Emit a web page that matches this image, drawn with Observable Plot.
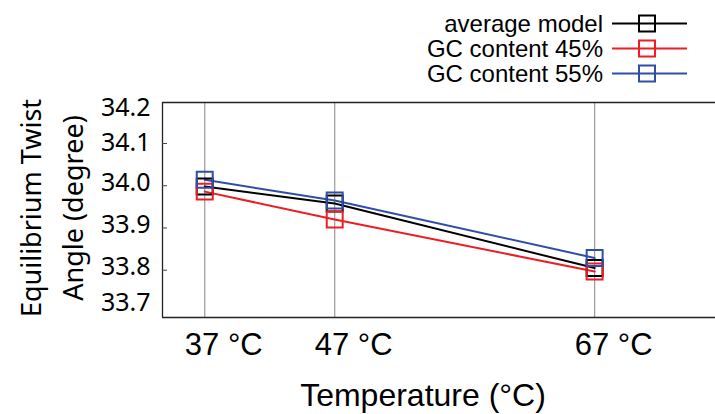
<!DOCTYPE html>
<html>
<head>
<meta charset="utf-8">
<script src="https://cdn.jsdelivr.net/npm/d3@7"></script>
<script src="https://cdn.jsdelivr.net/npm/@observablehq/plot@0.6"></script>
<style>
  html, body { margin: 0; padding: 0; background: #fff; }
  #wrap { position: relative; width: 715px; height: 414px; overflow: hidden; }
  #legend { position: absolute; left: 0; top: 0; width: 715px; font-family: "Liberation Sans", Arial, sans-serif; font-size: 24px; color: #000; }
  .row { position: absolute; left: 0; height: 25px; width: 715px; }
  .row .lab { position: absolute; right: 112px; top: 0; line-height: 25px; white-space: nowrap; }
  .row svg { position: absolute; left: 612px; top: 0; }
</style>
</head>
<body>
<div id="wrap"><div id="legend"></div></div>
<script>
// ---- data ----
const temps = [37, 47, 67];
const tempUnit = "°C";
const series = ["average model", "GC content 45%", "GC content 55%"];
const avgValues  = [33.998, 33.958, 33.805];
const gc45Values = [33.986, 33.920, 33.797];
const gc55Values = [34.014, 33.965, 33.829];
const yTicks = [33.7, 33.8, 33.9, 34.0, 34.1, 34.2];
const colors = ["#000000", "#ee1c25", "#2f4ea6"];

const seriesValues = [avgValues, gc45Values, gc55Values];
const data = series.flatMap((s, i) => temps.map((t, j) => ({series: s, temp: t, value: seriesValues[i][j]})));

const xDomain = [33.75, 76.3];
const yDomain = [33.688, 34.197];
const yInner = yTicks.slice(1, -1);
const fmt = d => d.toFixed(1);
const yLab = {tickSize: 0, tickPadding: 12, label: null, fontSize: 25, fontFamily: "Noto Sans", tickFormat: fmt};

const chart = Plot.plot({
  width: 715,
  height: 414,
  marginTop: 102,
  marginLeft: 162,
  marginRight: 0,
  marginBottom: 97,
  style: {fontFamily: "Liberation Sans, Arial, sans-serif", background: "white", overflow: "visible"},
  x: {domain: xDomain},
  y: {domain: yDomain},
  color: {domain: series, range: colors},
  marks: [
    Plot.ruleX(temps, {stroke: "#999", strokeWidth: 1.2}),
    // frame: left, top, bottom (right edge runs off the picture)
    Plot.ruleX([xDomain[0]], {stroke: "#222", strokeWidth: 1.3}),
    Plot.ruleY([yDomain[0], yDomain[1]], {stroke: "#222", strokeWidth: 1.6}),
    // inward y ticks
    Plot.axisY(yInner, {tickSize: -5, fill: "none", label: null, stroke: "#444"}),
    // y tick labels
    Plot.axisY(yTicks.slice(1, -2), {...yLab, dy: -3}),
    Plot.axisY([yTicks[yTicks.length - 2]], {...yLab, dy: 0}),
    Plot.axisY([yTicks[yTicks.length - 1]], {...yLab, dy: 7}),
    Plot.axisY([yTicks[0]], {...yLab, dy: -9}),
    // x tick labels
    Plot.axisX(temps, {tickSize: 0, tickPadding: 15, dx: 19, label: null, fontSize: 31, tickFormat: d => `${d} ${tempUnit}`}),
    // axis titles
    Plot.text(["Temperature (°C)"], {frameAnchor: "bottom", dy: 78, dx: -16, fontSize: 32, lineAnchor: "middle"}),
    Plot.text(["Equilibrium Twist"], {frameAnchor: "left", rotate: -90, dx: -130, dy: -2, fontSize: 27, fontFamily: "Noto Sans", textAnchor: "middle"}),
    Plot.text(["Angle (degree)"], {frameAnchor: "left", rotate: -90, dx: -88, dy: -2, fontSize: 27, fontFamily: "Noto Sans", textAnchor: "middle"}),
    // series
    Plot.line(data, {x: "temp", y: "value", stroke: "series", z: "series", strokeWidth: 2}),
    Plot.dot(data, {x: "temp", y: "value", stroke: "series", symbol: "square", r: 9, strokeWidth: 2, fill: "none"})
  ]
});
document.getElementById("wrap").insertBefore(chart, document.getElementById("legend"));

// ---- legend ----
const legend = d3.select("#legend");
const rowCenters = [23, 48, 73];
series.forEach((s, i) => {
  const row = legend.append("div").attr("class", "row").style("top", (rowCenters[i] - 12.5) + "px");
  row.append("span").attr("class", "lab").text(s);
  const svg = row.append("svg").attr("width", 76).attr("height", 25);
  svg.append("line").attr("x1", 0).attr("x2", 75).attr("y1", 12.5).attr("y2", 12.5)
    .attr("stroke", colors[i]).attr("stroke-width", 2);
  svg.append("rect").attr("x", 35 - 8).attr("y", 12.5 - 8).attr("width", 16).attr("height", 16)
    .attr("fill", "none").attr("stroke", colors[i]).attr("stroke-width", 2);
});
</script>
</body>
</html>
